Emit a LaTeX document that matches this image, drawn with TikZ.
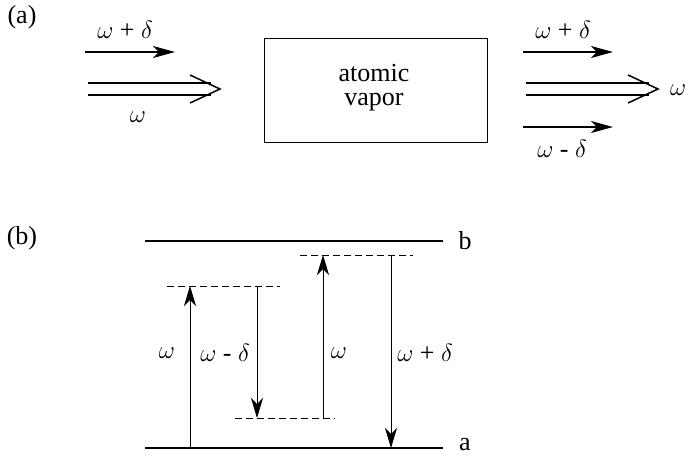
\documentclass[tikz,border=0pt]{standalone}
\usepackage{fontspec}
\setmainfont{Liberation Serif}
\usetikzlibrary{arrows.meta}
\begin{document}
\begin{tikzpicture}[x=1pt,y=-1pt,
  lbl/.style={inner sep=0pt,font=\fontsize{26}{23}\selectfont},
  beam/.style={line width=1.5pt,-{Stealth[length=22pt,width=12pt,inset=6pt]}},
  dbl/.style={line width=1.5pt},
  level/.style={line width=2pt},
  trans/.style={line width=0.8pt,-{Stealth[length=20pt,width=12pt,inset=6pt]}},
  virt/.style={line width=1pt,dash pattern=on 7pt off 4pt}]
\useasboundingbox (0,0) rectangle (688,458);
% (a)
\node[lbl] (la) at (22,17) {(a)};
\coordinate (i1s) at (85,52); \coordinate (i1e) at (175,52);
\draw[beam] (i1s) -- (i1e);
\node[lbl] (i1l) at (125,30) {$\omega$ + $\delta$};
% input double arrow
\coordinate (i2t) at (220,89);
\draw[dbl] (88,83) -- (211,83) (88,95) -- (211,95);
\draw[dbl] (190,75) -- (i2t) -- (190,103);
\node[lbl] (i2l) at (138,117) {$\omega$};
% box
\node[draw,line width=1pt,minimum width=223pt,minimum height=104pt,inner sep=0pt] (box) at (375.5,90) {};
\node[lbl,anchor=base] (boxt1) at (374,81) {atomic};
\node[lbl,anchor=base] (boxt2) at (374,105) {vapor};
% outputs
\coordinate (o1s) at (523,52); \coordinate (o1e) at (613,52);
\draw[beam] (o1s) -- (o1e);
\node[lbl] (o1l) at (563,30) {$\omega$ + $\delta$};
\coordinate (o2t) at (658,89);
\draw[dbl] (526,83) -- (649,83) (526,95) -- (649,95);
\draw[dbl] (628,75) -- (o2t) -- (628,103);
\node[lbl,anchor=west] (o2l) at (670,90) {$\omega$};
\coordinate (o3s) at (523,127); \coordinate (o3e) at (613,127);
\draw[beam] (o3s) -- (o3e);
\node[lbl] (o3l) at (562,149) {$\omega$ - $\delta$};
% (b)
\node[lbl] (lb) at (22,238) {(b)};
\coordinate (bL) at (145,241); \coordinate (bR) at (443,241);
\coordinate (aL) at (145,448); \coordinate (aR) at (443,448);
\draw[level] (bL) -- (bR);
\draw[level] (aL) -- (aR);
\node[lbl] (bl) at (465,241) {b};
\node[lbl] (al) at (465,445) {a};
% virtual levels
\coordinate (v1L) at (167,286); \coordinate (v1R) at (280,286);
\coordinate (v2L) at (235,418); \coordinate (v2R) at (335,418);
\coordinate (v3L) at (300,255); \coordinate (v3R) at (413,255);
\draw[virt] (v1L) -- (v1R);
\draw[virt] (v2L) -- (v2R);
\draw[virt] (v3L) -- (v3R);
% transitions
\coordinate (t1s) at (190,448); \coordinate (t1e) at (190,286);
\coordinate (t2s) at (257,286); \coordinate (t2e) at (257,418);
\coordinate (t3s) at (323,418); \coordinate (t3e) at (323,255);
\coordinate (t4s) at (391,255); \coordinate (t4e) at (391,448);
\draw[trans] (t1s) -- (t1e);
\draw[trans] (t2s) -- (t2e);
\draw[trans] (t3s) -- (t3e);
\draw[trans] (t4s) -- (t4e);
\node[lbl] (t1l) at (167,353) {$\omega$};
\node[lbl] (t2l) at (225,353) {$\omega$ - $\delta$};
\node[lbl] (t3l) at (339,353) {$\omega$};
\node[lbl] (t4l) at (425,353) {$\omega$ + $\delta$};
\end{tikzpicture}
\end{document}
